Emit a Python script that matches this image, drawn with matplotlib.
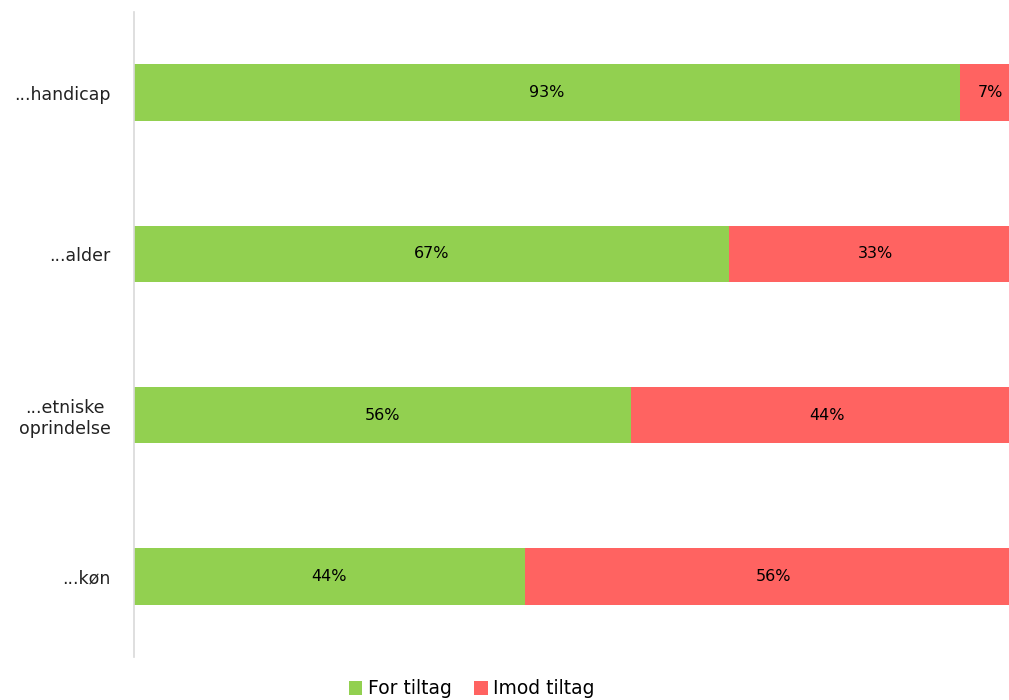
import matplotlib.pyplot as plt
import numpy as np

# data
kategorier = ['...køn', '...etniske\noprindelse', '...alder', '...handicap']
for_tiltag = [44, 56, 67, 93]
imod_tiltag = [56, 44, 33, 7]

groen = '#92D050'
roed = '#FF6361'

plt.rcParams['font.family'] = ['DejaVu Sans']

fig = plt.figure(figsize=(10.09, 7.0), dpi=100)
# the original chart is cropped on the right, so the axes run past the edge
ax = fig.add_axes([134 / 1009, 43 / 700, 888 / 1009, 645 / 700])

y = np.arange(len(kategorier))
ax.barh(y, for_tiltag, height=0.35, color=groen, label='For tiltag')
ax.barh(y, imod_tiltag, left=for_tiltag, height=0.35, color=roed, label='Imod tiltag')

for i in range(len(y)):
    ax.text(for_tiltag[i] / 2, y[i], f'{for_tiltag[i]}%', ha='center', va='center',
            fontsize=11.5, color='black')
    ax.text(for_tiltag[i] + imod_tiltag[i] / 2, y[i], f'{imod_tiltag[i]}%',
            ha='center', va='center', fontsize=11.5, color='black')

ax.set_xlim(0, 100)
ax.set_ylim(-0.5, 3.5)
ax.set_yticks(y)
ax.set_yticklabels(kategorier, fontsize=12.5, color='#222222', ha='right',
                   multialignment='center')
ax.tick_params(axis='y', length=0, pad=17)
ax.set_xticks([])
for s in ['top', 'right', 'bottom']:
    ax.spines[s].set_visible(False)
ax.spines['left'].set_color('#d9d9d9')
ax.spines['left'].set_linewidth(1.2)

fig.legend(loc='center', bbox_to_anchor=(472 / 1009, 11 / 700), ncol=2, frameon=False,
           fontsize=13.5, handlelength=0.7, handleheight=0.7, handletextpad=0.3,
           columnspacing=1.2)

fig.savefig('out.png', dpi=100)
